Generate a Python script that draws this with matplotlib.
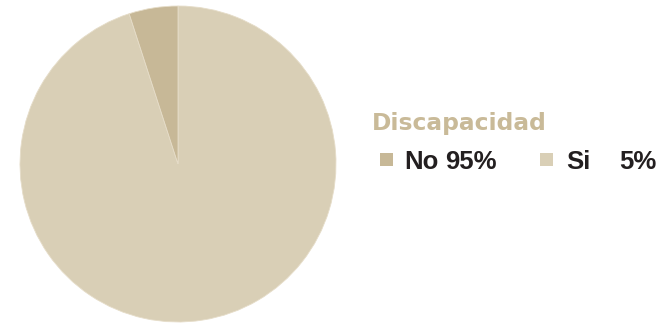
import matplotlib.pyplot as plt
from matplotlib.patches import Rectangle

# data
labels = ['No', 'Si']
values = [95, 5]
pie_colors = ['#d9cfb6', '#c7b897']
legend_colors = ['#c7b897', '#d9cfb6']
title = 'Discapacidad'

W, H = 668, 323
fig = plt.figure(figsize=(W/100, H/100), dpi=100)
fig.patch.set_facecolor('white')

# pie area: center (178,164) radius ~158 px
cx, cy, r = 178, 164, 158
ax = fig.add_axes([(cx - r)/W, 1 - (cy + r)/H, 2*r/W, 2*r/H])
ax.pie(values, colors=pie_colors, startangle=90, counterclock=False, radius=1,
       wedgeprops=dict(edgecolor='#e6ddc9', linewidth=0.6))
ax.set_xlim(-1, 1)
ax.set_ylim(-1, 1)
ax.axis('off')

fig.text(372/W, 1 - 130/H, title, fontsize=16.8, fontweight='bold',
         color='#c9ba98', fontname='DejaVu Sans', va='baseline')

# legend entries drawn by hand
xs = [380, 540]
text_x = [404, 566]
pct_x = [445, 619]
for i, lab in enumerate(labels):
    fig.patches.append(Rectangle((xs[i]/W, 1 - 166/H), 13/W, 13/H,
                                 transform=fig.transFigure, facecolor=legend_colors[i],
                                 edgecolor='none'))
    fig.text(text_x[i]/W, 1 - 169/H, lab, fontsize=18.5, fontweight='bold',
             color='#231f20', fontname='Liberation Sans', va='baseline')
    fig.text(pct_x[i]/W, 1 - 169/H, '%d%%' % values[i], fontsize=18.5, fontweight='bold',
             color='#231f20', fontname='Liberation Sans', va='baseline')

fig.savefig('out.png', dpi=100, facecolor='white')
